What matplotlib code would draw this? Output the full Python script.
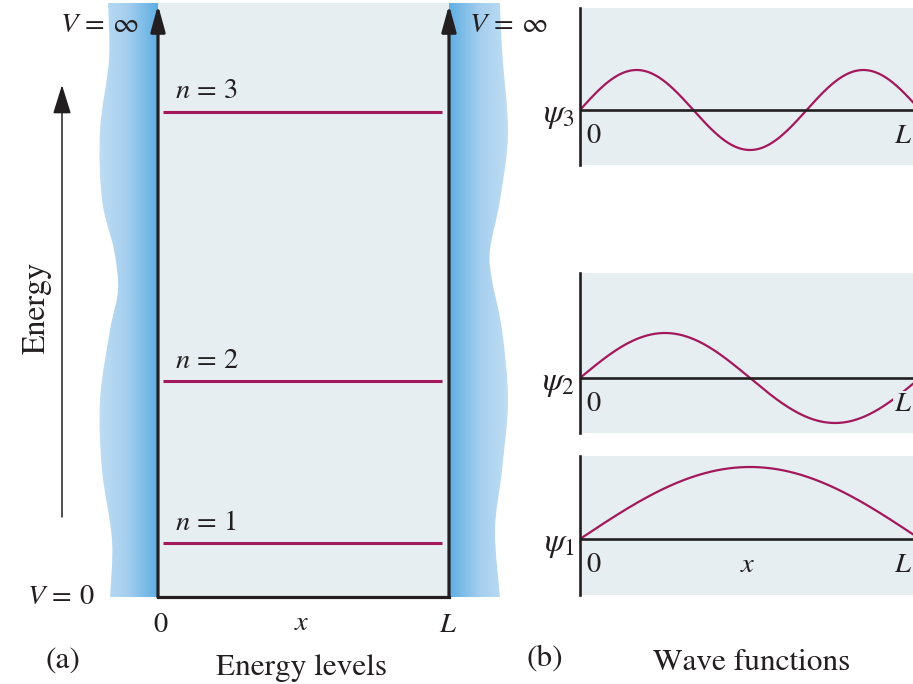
import numpy as np
import matplotlib
matplotlib.use("Agg")
import matplotlib.pyplot as plt
from matplotlib.path import Path
from matplotlib.patches import PathPatch
from matplotlib.colors import LinearSegmentedColormap

plt.rcParams['font.family'] = 'STIXGeneral'
plt.rcParams['mathtext.fontset'] = 'stix'

# data
levels_n = [1, 2, 3]
levels_E = [1.0, 4.0, 9.0]          # E_n = n^2 E_1
wave_n = [3, 2, 1]
wave_amp = [40, 45, 72]

ink = '#231f20'
crimson = '#a3185c'
bg = '#e6eef2'
W, H = 913, 684
fs = 20.5      # math labels
fw = 22.5      # word labels

fig = plt.figure(figsize=(W / 100, H / 100), dpi=100)


def px_axes(x0, y0, x1, y1, **kw):
    return fig.add_axes([x0 / W, 1 - y1 / H, (x1 - x0) / W, (y1 - y0) / H], **kw)


def wall_path(pts, x_inner):
    # smooth outer edge through the points (Catmull-Rom -> Bezier)
    pts = [np.array(p, float) for p in pts]
    verts = [(x_inner, pts[0][1]), pts[0]]
    codes = [Path.MOVETO, Path.LINETO]
    P = [pts[0]] + pts + [pts[-1]]
    for i in range(1, len(P) - 2):
        p0, p1, p2, p3 = P[i - 1], P[i], P[i + 1], P[i + 2]
        verts += [p1 + (p2 - p0) / 6, p2 - (p3 - p1) / 6, p2]
        codes += [Path.CURVE4] * 3
    verts += [(x_inner, pts[-1][1]), (x_inner, pts[0][1])]
    codes += [Path.LINETO, Path.CLOSEPOLY]
    return Path(verts, codes)


# decoration layer in pixel coords
deco = px_axes(0, 0, W, H)
deco.axis('off')

left_edge = [(108, 3), (109, 60), (100, 130), (102, 200), (114, 250), (118, 290),
             (110, 330), (100, 400), (102, 470), (112, 540), (110, 597)]
right_edge = [(500, 3), (502, 50), (508, 133), (500, 200), (490, 250), (492, 280),
              (502, 330), (508, 400), (502, 470), (495, 530), (500, 597)]

blues = LinearSegmentedColormap.from_list('wall', ['#c3dff4', '#a6cfef', '#5eaee2'])
grad = np.linspace(0, 1, 256)[None, :]

for edge, x_inner, ext, g in [(left_edge, 158, (95, 158, 597, 3), grad),
                              (right_edge, 449, (449, 512, 597, 3), grad[:, ::-1])]:
    patch = PathPatch(wall_path(edge, x_inner), fc='none', ec='none')
    deco.add_patch(patch)
    im = deco.imshow(g, cmap=blues, extent=ext, aspect='auto', interpolation='bilinear')
    im.set_clip_path(patch)

deco.set_xlim(0, W)
deco.set_ylim(H, 0)

deco.text(99, 25, r'$V\,=\,\infty$', fontsize=fs, color=ink, ha='center', va='center')
deco.text(508, 25, r'$V\,=\,\infty$', fontsize=fs, color=ink, ha='center', va='center')
deco.text(61, 597, r'$V\,=\,0$', fontsize=fs, color=ink, ha='center', va='center')

deco.annotate('', xy=(62, 85), xytext=(62, 517),
              arrowprops=dict(arrowstyle='-|>,head_length=0.9,head_width=0.28', lw=1.1,
                              color=ink, shrinkA=0, shrinkB=0, mutation_scale=20))
deco.text(37, 308, 'Energy', fontsize=23, color=ink, rotation=90, ha='center', va='center')

deco.text(160, 632, '0', fontsize=fs, color=ink, ha='center', va='baseline')
deco.text(302, 630, r'$x$', fontsize=fs, color=ink, ha='center', va='baseline')
deco.text(448, 632, r'$L$', fontsize=fs, color=ink, ha='center', va='baseline')
deco.text(63, 661, '(a)', fontsize=fw, color=ink, ha='center', va='center')
deco.text(302, 675, 'Energy levels', fontsize=fw, color=ink, ha='center', va='baseline')
deco.text(545, 659, '(b)', fontsize=fw, color=ink, ha='center', va='center')
deco.text(752, 670, 'Wave functions', fontsize=fw, color=ink, ha='center', va='baseline')

# (a) energy levels
ppu = 53.9
pa = px_axes(158, 3, 449, 597)
pa.set_facecolor(bg)
pa.set_xlim(0, 1)
pa.set_ylim(0, 594 / ppu)
for s in pa.spines.values():
    s.set_visible(False)
pa.set_xticks([])
pa.set_yticks([])

for xw in (0, 1):
    pa.annotate('', xy=(xw, 592 / ppu), xytext=(xw, 0), annotation_clip=False,
                arrowprops=dict(arrowstyle='-|>,head_length=0.8,head_width=0.22', lw=2.3,
                                color=ink, shrinkA=0, shrinkB=0, mutation_scale=20))
pa.plot([0, 1], [0, 0], color=ink, lw=2.3, clip_on=False, solid_capstyle='projecting')

pa.hlines(levels_E, 0.017, 0.976, color=crimson, lw=2.2)
for n, E in zip(levels_n, levels_E):
    pa.text(0.059, E + 0.25, r'$n\,=\,%d$' % n, fontsize=fs, color=ink, ha='left', va='baseline')

# (b) wave functions
panel_px = [(8, 110, 165), (273, 378, 433), (456, 539, 595)]
Lpx = 340
for n, amp, (top, axis_y, bottom) in zip(wave_n, wave_amp, panel_px):
    ax = px_axes(580, top, W, bottom)
    ax.set_facecolor(bg)
    ax.set_xlim(0, (W - 580) / Lpx)
    ax.set_ylim(-(bottom - axis_y), axis_y - top)
    for s in ax.spines.values():
        s.set_visible(False)
    ax.set_xticks([])
    ax.set_yticks([])
    x = np.linspace(0, 1, 400)
    ax.plot(x, amp * np.sin(n * np.pi * x), color=crimson, lw=1.6)
    ax.axhline(0, color=ink, lw=1.9)
    ax.axvline(0, color=ink, lw=1.9, clip_on=False)
    ax.text(13 / Lpx, -33, '0', fontsize=fs, color=ink, ha='center', va='baseline')
    ax.text(323 / Lpx, -33, r'$L$', fontsize=fs, color=ink, ha='center', va='baseline',
            bbox=dict(fc=bg, ec='none', pad=0.5))
    if n == 1:
        ax.text(168 / Lpx, -33, r'$x$', fontsize=fs, color=ink, ha='center', va='baseline')
    deco.text(575, axis_y + 6, r'$\psi_{%d}$' % n, fontsize=24, color=ink, ha='right', va='center')

fig.savefig('out.png', dpi=100, facecolor='white')
